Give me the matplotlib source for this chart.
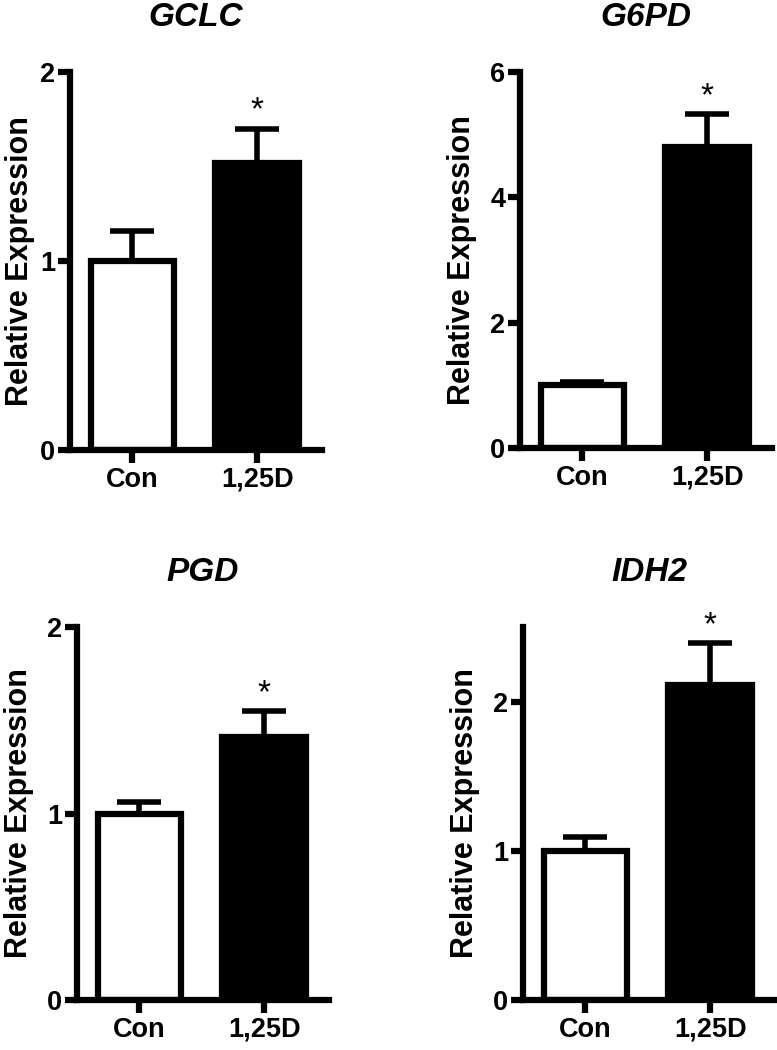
import matplotlib
matplotlib.use('Agg')
import matplotlib.pyplot as plt

plt.rcParams['font.family'] = ['Liberation Sans', 'DejaVu Sans']
plt.rcParams['font.weight'] = 'bold'

### Data
genes = ['GCLC', 'G6PD', 'PGD', 'IDH2']
groups = ['Con', '1,25D']
means = [[1.0, 1.52], [1.0, 4.80], [1.0, 1.41], [1.0, 2.11]]
sems = [[0.16, 0.18], [0.05, 0.53], [0.06, 0.14], [0.09, 0.28]]
ymax = [2, 6, 2, 2.5]
yticks = [[0, 1, 2], [0, 2, 4, 6], [0, 1, 2], [0, 1, 2]]
signif = [[False, True], [False, True], [False, True], [False, True]]

W, H = 777, 1050
# axes boxes in pixels: left, top, bottom
boxes = [(70, 72, 450), (520, 72, 448), (77, 627, 1000), (523, 627, 1000)]
axw = 252
lw = 4.5
# ylabel x offset (axes fraction); first panel sits close to the edge
label_x = [-0.14, -0.17, -0.17, -0.17]

fig = plt.figure(figsize=(W / 100, H / 100), dpi=100)

for k, gene in enumerate(genes):
    left, top, bottom = boxes[k]
    ax = fig.add_axes([left / W, 1 - bottom / H, axw / W, (bottom - top) / H])
    x = list(range(len(groups)))

    ax.bar(x, means[k], width=0.67, color=['white', 'black'], edgecolor='black',
           linewidth=lw, zorder=2)
    # only the upper half of the error bar is drawn
    ax.errorbar(x, means[k], yerr=[[0] * len(x), sems[k]], fmt='none', ecolor='black',
                elinewidth=4, capsize=16, capthick=4, zorder=3)

    # significance stars
    for i in x:
        if signif[k][i]:
            ax.annotate('*', xy=(i, means[k][i] + sems[k][i]), xytext=(0, 1.5),
                        textcoords='offset points', ha='center', va='bottom',
                        fontsize=24, fontweight='normal', annotation_clip=False)

    ax.set_xlim(-0.5, 1.52)
    ax.set_ylim(0, ymax[k])
    ax.set_xticks(x)
    ax.set_xticklabels(groups)
    ax.set_yticks(yticks[k])

    for s in ['top', 'right']:
        ax.spines[s].set_visible(False)
    for s in ['left', 'bottom']:
        ax.spines[s].set_linewidth(lw)
        ax.spines[s].set_capstyle('projecting')

    ax.tick_params(axis='y', width=lw, length=9, pad=1.5, labelsize=19.5)
    ax.tick_params(axis='x', width=lw, length=9, pad=3, labelsize=19.5)

    ax.set_ylabel('Relative Expression', fontsize=22, fontweight='bold')
    ax.yaxis.set_label_coords(label_x[k], 0.5)
    ax.set_title(gene, fontsize=24, fontweight='bold', fontstyle='italic', pad=33)

fig.savefig('out.png', dpi=100)
